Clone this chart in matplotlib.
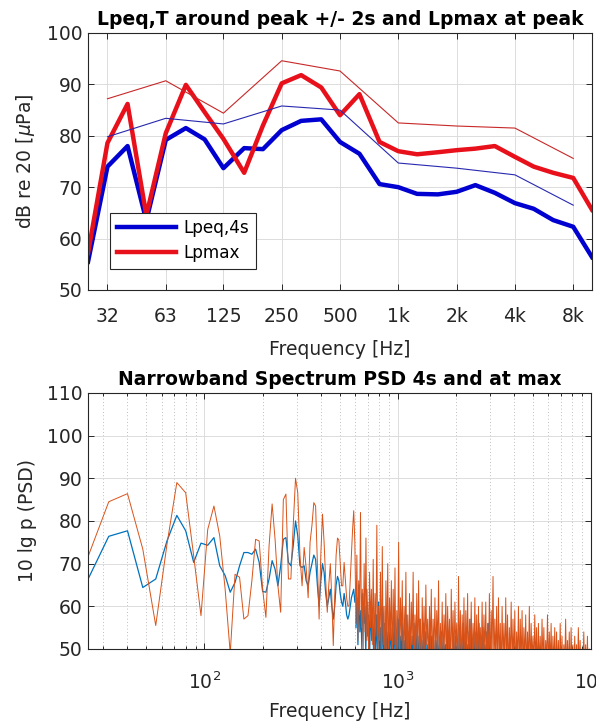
import matplotlib.pyplot as plt
import numpy as np
from matplotlib.ticker import NullLocator, LogLocator, NullFormatter

# ---- third-octave band levels (top plot)
f_third = [25, 31.5, 40, 50, 63, 80, 100, 125, 160, 200, 250, 315, 400, 500,
           630, 800, 1000, 1250, 1600, 2000, 2500, 3150, 4000, 5000, 6300, 8000, 10000]
lpeq_4s = [55.5, 74.0, 78.0, 63.5, 79.2, 81.5, 79.3, 73.7, 77.6, 77.4, 81.1, 82.9, 83.2, 78.8,
           76.5, 70.6, 70.0, 68.7, 68.6, 69.1, 70.4, 68.9, 66.9, 65.8, 63.6, 62.3, 56.4]
lpmax = [57.2, 78.6, 86.2, 64.5, 80.5, 89.9, 84.6, 79.4, 72.8, 82.0, 90.2, 91.8, 89.4, 84.0,
         88.1, 78.8, 77.0, 76.4, 76.8, 77.2, 77.5, 78.0, 75.9, 74.0, 72.8, 71.8, 65.6]

# octave band levels (thin lines)
f_oct = [31.5, 63, 125, 250, 500, 1000, 2000, 4000, 8000]
oct_labels = ['32', '63', '125', '250', '500', '1k', '2k', '4k', '8k']
lpeq_oct = [79.8, 83.4, 82.3, 85.8, 85.0, 74.7, 73.7, 72.4, 66.5]
lpmax_oct = [87.2, 90.7, 84.4, 94.6, 92.6, 82.5, 81.9, 81.5, 75.6]

# ---- narrowband PSD (bottom plot), 8 Hz bins up to 600 Hz
f_nb = np.arange(24, 601, 8)
psd_4s = [64.7, 76.4, 77.7, 64.4, 66.4, 75.3, 81.3, 77.7, 70.3, 74.8,
          74.3, 76.1, 69.5, 67.2, 63.3, 65.6, 69.5, 72.6, 72.6, 72.2,
          73.4, 70.3, 63.5, 63.3, 66.4, 70.7, 68.7, 64.8, 69.5, 75.7,
          76.1, 70.3, 69.5, 74.2, 80.0, 76.5, 69.5, 69.1, 69.5, 66.0,
          64.8, 68.0, 70.0, 72.0, 71.0, 65.0, 60.0, 66.0, 70.0, 68.0,
          63.0, 60.0, 62.0, 64.0, 60.0, 57.0, 60.0, 65.0, 67.0, 66.0,
          63.0, 61.0, 60.0, 63.0, 61.0, 58.0, 57.0, 58.0, 60.0, 62.0,
          63.0, 64.0, 61.0]
psd_max = [69.5, 84.5, 86.4, 73.4, 55.5, 74.5, 89.0, 86.6, 71.8, 57.8,
           78.0, 83.5, 76.5, 64.0, 49.0, 67.5, 66.8, 57.0, 57.8, 66.0,
           75.7, 75.3, 64.0, 57.4, 74.2, 84.0, 75.7, 64.8, 58.6, 85.0,
           86.3, 66.4, 66.4, 79.0, 90.0, 86.6, 72.0, 64.8, 73.8, 69.0,
           62.0, 75.0, 79.0, 84.3, 83.5, 70.0, 57.0, 72.0, 81.6, 75.0,
           66.0, 58.6, 65.0, 70.0, 62.0, 50.8, 62.0, 72.0, 76.0, 75.5,
           70.0, 64.8, 64.8, 70.3, 66.0, 62.0, 60.0, 60.1, 66.0, 72.0,
           78.0, 82.4, 75.0]

psd_max_hi = [56, 72, 52, 66, 58, 82, 55, 64, 50, 70, 54, 76, 52, 61, 49, 68, 55, 64, 51, 71,
              48, 63, 53, 79, 47, 60, 52, 68, 46, 74, 51, 60, 45, 66, 50, 70, 47, 62, 52, 66,
              46, 64, 51, 69, 45, 59, 50, 75, 47, 62, 52, 66, 44, 60, 50, 68, 47, 58, 46, 63,
              47, 61, 51, 68, 45, 58, 50, 63, 46, 66, 50, 57, 44, 62, 49, 60, 47, 65, 51, 57,
              46, 60, 50, 64, 44, 57, 49, 62, 47, 59, 50, 66, 45, 56, 48, 61, 46, 58, 50, 63,
              45, 60, 49, 57, 44, 64, 48, 59, 46, 61, 50, 56, 44, 67, 47, 59, 45, 58, 49, 62,
              45, 59, 48, 63, 44, 57, 49, 61, 46, 56, 48, 62, 44, 58, 47, 60, 45, 55, 48, 61,
              44, 58, 48, 61, 45, 56, 47, 63, 44, 59, 49, 67, 45, 57, 47, 60, 44, 62, 46, 56,
              44, 60, 47, 56, 45, 62, 46, 58, 44, 55, 47, 61, 45, 57, 46, 59, 44, 54, 47, 60,
              44, 57, 46, 59, 44, 55, 47, 58, 45, 54, 46, 60, 44, 56, 47, 53, 45, 58, 46, 55,
              44, 56, 46, 53, 45, 57, 46, 55, 44, 52, 47, 58, 45, 54, 46, 56, 44, 53, 46, 55,
              43, 54, 46, 52, 44, 56, 45, 53, 43, 51, 46, 57, 44, 52, 45, 54, 43, 55, 46, 51,
              43, 53, 45, 51, 44, 55, 45, 52, 43, 50, 45, 54, 44, 51, 44, 53, 43, 50, 44, 47]
psd_4s_hi = [55, 62, 51, 65, 54, 59, 50, 63, 56, 60, 49, 64, 53, 58, 50, 61, 52, 59, 48, 57,
             47, 58, 50, 61, 46, 55, 49, 60, 45, 56, 48, 59, 46, 54, 50, 57, 45, 55, 48, 58,
             46, 54, 49, 57, 44, 53, 48, 56, 45, 52, 47, 58, 44, 54, 48, 55, 45, 53, 47, 56,
             45, 55, 48, 53, 44, 57, 47, 52, 45, 56, 48, 54, 44, 51, 47, 55, 45, 53, 48, 52,
             44, 52, 47, 55, 45, 51, 46, 54, 44, 53, 47, 51, 45, 55, 46, 52, 44, 50, 47, 53,
             44, 53, 47, 51, 45, 55, 46, 52, 44, 56, 47, 53, 45, 51, 46, 54, 44, 57, 47, 52,
             44, 54, 46, 52, 45, 56, 47, 53, 44, 55, 46, 51, 45, 54, 47, 56, 44, 52, 45, 44]
f_max_hi = np.geomspace(608, 10000, len(psd_max_hi))
f_4s_hi = np.geomspace(608, 3100, len(psd_4s_hi))

plt.rcParams['font.family'] = 'DejaVu Sans'

txt = '#262626'
fs = 13.5

fig = plt.figure(figsize=(5.96, 7.23), dpi=100)

# ---------- top
ax1 = fig.add_axes([0.1477, 0.5989, 0.8456, 0.3555])
ax1.plot(f_third, lpeq_4s, color='#0000d0', lw=3.2, label='Lpeq,4s')
ax1.plot(f_third, lpmax, color='#e8101a', lw=3.2, label='Lpmax')
ax1.plot(f_oct, lpeq_oct, color='#2828b0', lw=0.8)
ax1.plot(f_oct, lpmax_oct, color='#c82828', lw=0.8)
ax1.set_xscale('log')
ax1.set_xlim(25, 10000)
ax1.set_ylim(50, 100)
ax1.set_xticks(f_oct)
ax1.set_xticklabels(oct_labels)
ax1.xaxis.set_minor_locator(NullLocator())
ax1.set_yticks([50, 60, 70, 80, 90, 100])
ax1.grid(True, color='#dcdcdc', lw=0.7)
ax1.set_axisbelow(True)
ax1.set_title('Lpeq,T around peak +/- 2s and Lpmax at peak', fontsize=fs, fontweight='bold', pad=6)
ax1.set_ylabel(r'dB re 20 [$\mu$Pa]', fontsize=fs, color=txt, labelpad=7)
leg = ax1.legend(loc='lower left', bbox_to_anchor=(0.044, 0.082), borderaxespad=0,
                 fancybox=False, edgecolor='#262626', framealpha=1, fontsize=12.2,
                 handlelength=3.5, borderpad=0.4, labelspacing=0.4, handletextpad=0.4)
leg.get_frame().set_linewidth(0.8)

# ---------- bottom
ax2 = fig.add_axes([0.1477, 0.1024, 0.8440, 0.3541])
ax2.plot(f_nb, psd_4s, color='#0072BD', lw=0.9)
ax2.plot(f_4s_hi, psd_4s_hi, color='#0072BD', lw=0.9)
ax2.plot(np.r_[f_nb, f_max_hi], psd_max + psd_max_hi, color='#D95319', lw=0.7)
ax2.set_xscale('log')
ax2.set_xlim(25, 10000)
ax2.set_ylim(50, 110)
ax2.set_yticks([50, 60, 70, 80, 90, 100, 110])
ax2.xaxis.set_major_locator(LogLocator(base=10))
ax2.xaxis.set_minor_locator(LogLocator(base=10, subs=np.arange(2, 10)))
ax2.xaxis.set_minor_formatter(NullFormatter())
ax2.grid(True, which='major', color='#dcdcdc', lw=0.7)
ax2.grid(True, which='minor', axis='x', color='#a8a8a8', lw=0.6, ls=(0, (1, 3)))
ax2.set_axisbelow(True)
ax2.set_title('Narrowband Spectrum PSD 4s and at max', fontsize=fs, fontweight='bold', pad=6)
ax2.set_ylabel('10 lg p (PSD)', fontsize=fs, color=txt, labelpad=7)

for ax in (ax1, ax2):
    ax.tick_params(which='both', direction='in', top=True, right=True, colors=txt,
                   labelsize=fs, width=0.7)
    ax.tick_params(which='major', length=4)
    ax.tick_params(which='minor', length=2)
    ax.tick_params(axis='y', which='major', pad=4)
    for s in ax.spines.values():
        s.set_color(txt)
        s.set_linewidth(0.8)

ax1.tick_params(axis='x', which='major', pad=12)
ax2.tick_params(axis='x', which='major', pad=16)
ax1.set_xlabel('Frequency [Hz]', fontsize=fs, color=txt, labelpad=10)
ax2.set_xlabel('Frequency [Hz]', fontsize=fs, color=txt, labelpad=7)

fig.savefig('out.png', dpi=100)
